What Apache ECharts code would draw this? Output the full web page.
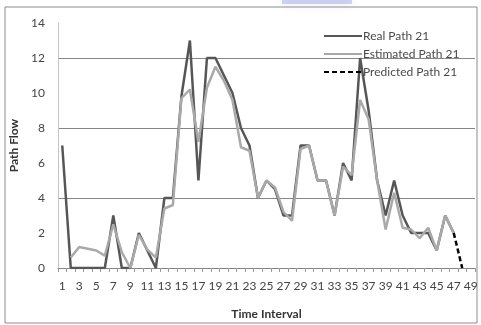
<!DOCTYPE html>
<html>
<head>
<meta charset="utf-8">
<script src="https://cdn.jsdelivr.net/npm/echarts@6/dist/echarts.min.js"></script>
<style>
  html, body { margin: 0; padding: 0; background: #fff; }
  #chart { width: 481px; height: 325px; }
</style>
</head>
<body>
<div id="chart"></div>
<script>
// Time intervals 1..49
const intervals = Array.from({ length: 49 }, (_, i) => String(i + 1));

// Observed flow on path 21
const realPath = [7, 0, 0, 0, 0, 0, 3, 0, 0, 2, 1, 0, 4, 4, 9.8, 13, 5, 12, 12, 11,
  10, 8, 7, 4, 5, 4.5, 3, 3, 7, 7, 5, 5, 3, 6, 5, 12, 9, 5, 3, 5,
  3, 2, 2, 2, 1, 3, 2, null, null];

// Estimated flow on path 21
const estimatedPath = [null, 0.6, 1.2, 1.1, 1.0, 0.7, 2.5, 0.9, 0, 1.9, 1.05, 0.6, 3.4, 3.6, 9.7, 10.2, 7.2, 10.3, 11.5, 10.7,
  9.6, 6.9, 6.7, 4.0, 5.0, 4.6, 3.2, 2.7, 6.8, 7.0, 5.0, 5.0, 3.0, 5.8, 5.3, 9.6, 8.5, 5.0, 2.2, 4.3,
  2.3, 2.2, 1.7, 2.3, 1.0, 3.0, 2.0, null, null];

// Predicted flow (last step)
const predictedPath = Array(46).fill(null).concat([2, 0, null]);

const yTicks = { min: 0, max: 14, interval: 2 };

const font = 'Lato, "Open Sans", sans-serif';
const chart = echarts.init(document.getElementById('chart'), null, { renderer: 'canvas' });

chart.setOption({
  animation: false,
  backgroundColor: '#ffffff',
  textStyle: { fontFamily: font },
  graphic: [
    {
      type: 'rect',
      shape: { x: 5, y: 7, width: 472, height: 316 },
      style: { fill: 'none', stroke: '#8c8c8c', lineWidth: 1 },
      silent: true, z: -10
    },
    {
      type: 'rect',
      shape: { x: 282, y: 0, width: 70, height: 4 },
      style: { fill: 'rgba(150,162,228,0.45)', shadowBlur: 8, shadowColor: 'rgba(150,162,228,0.7)' },
      silent: true, z: -5
    }
  ],
  grid: { left: 56, right: 6, top: 23, bottom: 57, containLabel: false },
  legend: {
    orient: 'vertical',
    left: 318,
    top: 25,
    itemWidth: 38,
    itemHeight: 12,
    itemGap: 6,
    // line-only legend keys
    itemStyle: { opacity: 0 },
    textStyle: { fontFamily: font, fontSize: 12, color: '#4a4a4a', padding: [0, 0, 0, -4] },
    data: ['Real Path 21', 'Estimated Path 21', 'Predicted Path 21']
  },
  xAxis: {
    type: 'category',
    data: intervals,
    boundaryGap: true,
    name: 'Time Interval',
    nameLocation: 'middle',
    nameGap: 40,
    nameTextStyle: { fontFamily: font, fontSize: 12, fontWeight: 'bold', color: '#333' },
    axisLine: { lineStyle: { color: '#868686', width: 1 } },
    axisTick: { show: true, interval: 0, length: 4, lineStyle: { color: '#9a9a9a' } },
    axisLabel: { interval: 1, margin: 12, fontFamily: font, fontSize: 12, color: '#444' },
    splitLine: { show: false }
  },
  yAxis: {
    type: 'value',
    min: yTicks.min,
    max: yTicks.max,
    interval: yTicks.interval,
    name: 'Path Flow',
    nameLocation: 'middle',
    nameGap: 38,
    nameRotate: 90,
    nameTextStyle: { fontFamily: font, fontSize: 12, fontWeight: 'bold', color: '#333' },
    axisLine: { show: true, lineStyle: { color: '#c4c4c4', width: 1 } },
    axisTick: { show: false },
    axisLabel: { margin: 13, fontFamily: font, fontSize: 12, color: '#444' },
    // gridlines at 0, 4, 8, 12 only
    splitLine: { show: true, lineStyle: { color: ['#868686', 'rgba(0,0,0,0)'], width: 1 } }
  },
  series: [
    {
      name: 'Real Path 21',
      type: 'line',
      data: realPath,
      symbol: 'none',
      lineStyle: { color: '#565656', width: 2.5 },
      itemStyle: { color: '#565656' }
    },
    {
      name: 'Estimated Path 21',
      type: 'line',
      data: estimatedPath,
      symbol: 'none',
      lineStyle: { color: '#a9a9a9', width: 2.5 },
      itemStyle: { color: '#a9a9a9' }
    },
    {
      name: 'Predicted Path 21',
      type: 'line',
      data: predictedPath,
      symbol: 'none',
      lineStyle: { color: '#000000', width: 2.5, type: [5, 3] },
      itemStyle: { color: '#000000' }
    }
  ]
});
</script>
</body>
</html>
